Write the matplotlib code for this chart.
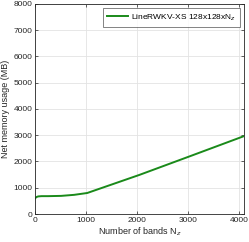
import matplotlib
matplotlib.use('Agg')
import matplotlib.pyplot as plt

# memory usage vs number of bands
bands = [1, 32, 64, 128, 256, 512, 768, 1024, 2048, 3072, 4096]
memory = [600, 650, 670, 680, 680, 690, 730, 800, 1490, 2225, 2965]

plt.rcParams['font.family'] = ['Liberation Sans', 'DejaVu Sans']

fig = plt.figure(figsize=(2.49, 2.42), dpi=100)
ax = fig.add_axes([0.1406, 0.1157, 0.839, 0.868])
ax.plot(bands, memory, color='#1a8a1a', lw=1.4, label='LineRWKV-XS 128x128xN$_z$')

ax.set_xlim(0, 4096)
ax.set_ylim(0, 8000)
ax.set_xticks([0, 1000, 2000, 3000, 4000])
ax.set_yticks(range(0, 8001, 1000))
ax.grid(True, color='#e3e3e3', lw=0.6)
ax.set_axisbelow(True)
ax.tick_params(direction='in', top=True, right=True, labelsize=6,
               length=2.5, width=0.5, colors='#262626', pad=2)
for s in ax.spines.values():
    s.set_color('#262626')
    s.set_linewidth(0.6)

ax.set_xlabel('Number of bands N$_z$', fontsize=6.5, color='#262626', labelpad=1)
ax.set_ylabel('Net memory usage (MB)', fontsize=6.5, color='#262626', labelpad=2)

leg = ax.legend(loc='upper right', fontsize=6, frameon=True, fancybox=False,
                edgecolor='#262626', borderaxespad=0.5, handlelength=2.5,
                borderpad=0.5, handletextpad=0.3)
leg.get_frame().set_linewidth(0.5)

plt.savefig('out.png', dpi=100)
